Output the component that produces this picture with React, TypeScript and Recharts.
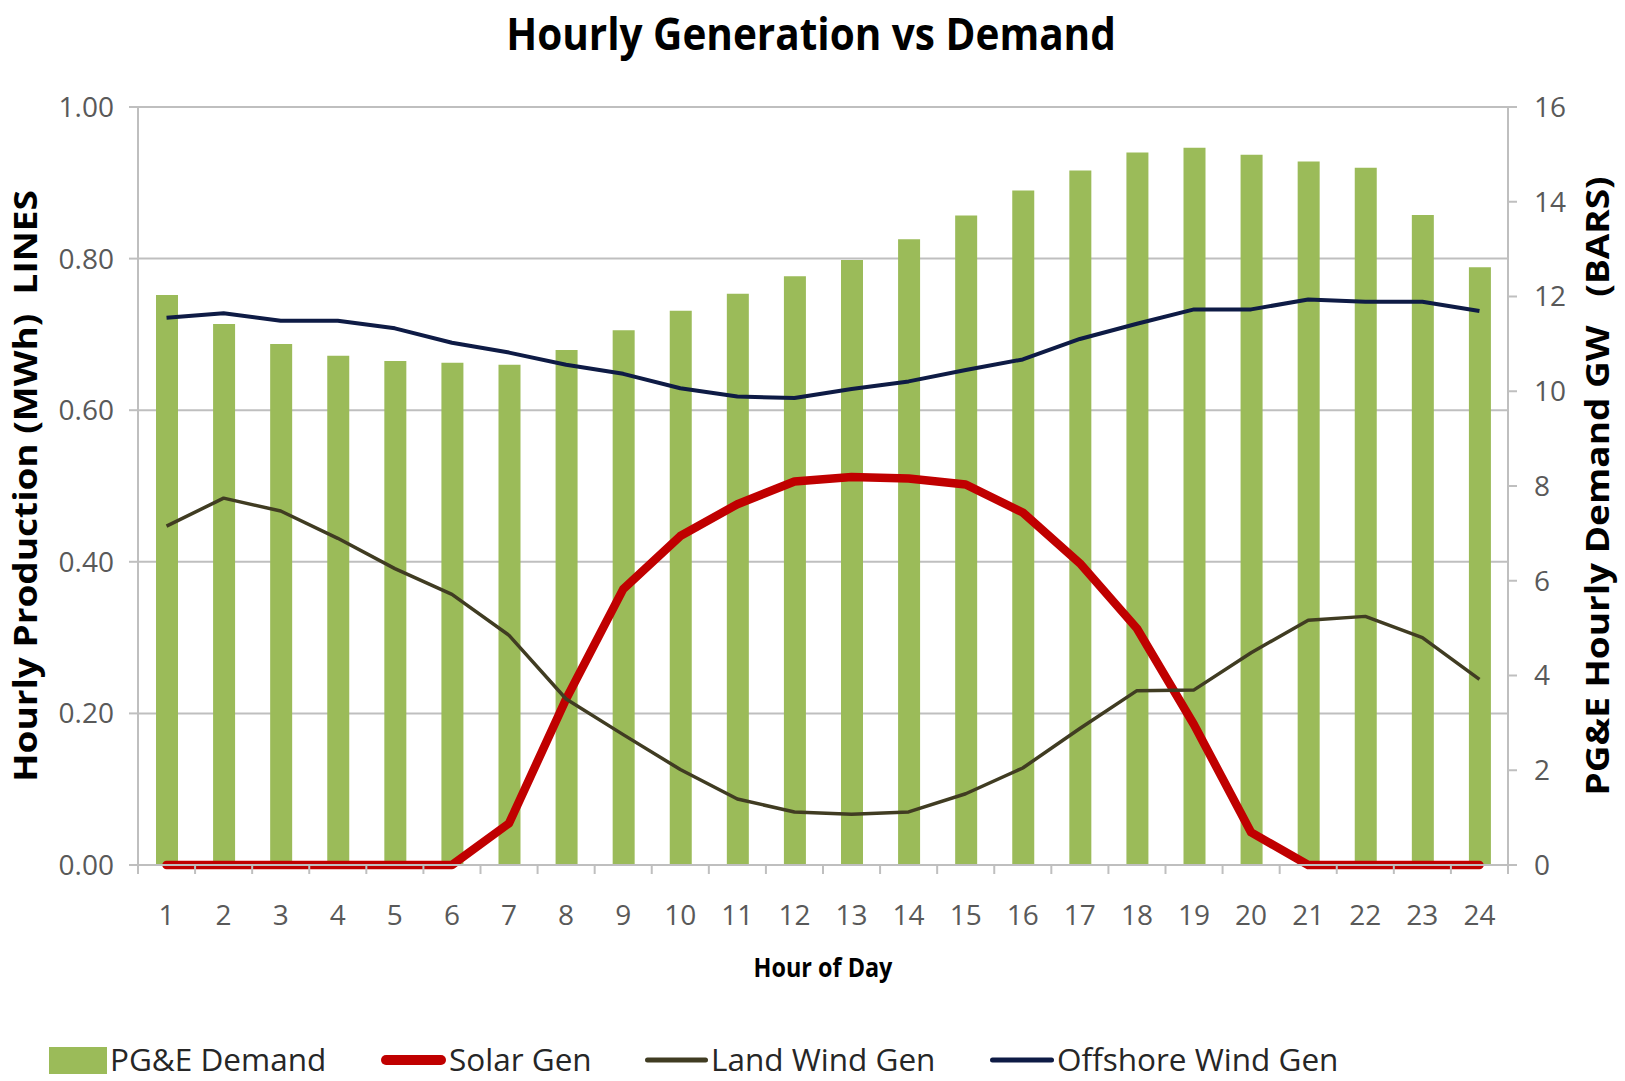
import React from 'react';
import { ComposedChart, Bar, Line, XAxis, YAxis, CartesianGrid } from 'recharts';

const hours = ['1', '2', '3', '4', '5', '6', '7', '8', '9', '10', '11', '12', '13', '14', '15', '16', '17', '18', '19', '20', '21', '22', '23', '24'];
const demandGW = [12.03, 11.42, 11.0, 10.75, 10.64, 10.6, 10.56, 10.87, 11.29, 11.7, 12.06, 12.43, 12.77, 13.21, 13.71, 14.24, 14.66, 15.04, 15.14, 14.99, 14.85, 14.72, 13.72, 12.62];
const solarGen = [0, 0, 0, 0, 0, 0, 0.055, 0.219, 0.364, 0.434, 0.476, 0.506, 0.512, 0.51, 0.502, 0.465, 0.398, 0.312, 0.185, 0.043, 0, 0, 0, 0];
const landWindGen = [0.447, 0.484, 0.467, 0.431, 0.391, 0.357, 0.303, 0.219, 0.172, 0.126, 0.087, 0.07, 0.067, 0.07, 0.094, 0.128, 0.18, 0.23, 0.231, 0.28, 0.323, 0.328, 0.3, 0.245];
const offshoreWindGen = [0.722, 0.728, 0.718, 0.718, 0.708, 0.689, 0.676, 0.66, 0.648, 0.629, 0.618, 0.616, 0.628, 0.638, 0.653, 0.667, 0.694, 0.714, 0.733, 0.733, 0.746, 0.743, 0.743, 0.731];
const leftTicks = [0, 0.2, 0.4, 0.6, 0.8, 1.0];
const rightTicks = [0, 2, 4, 6, 8, 10, 12, 14, 16];

const data = hours.map((h, i) => ({
  hour: h,
  demand: demandGW[i],
  solar: solarGen[i],
  land: landWindGen[i],
  offshore: offshoreWindGen[i],
}));

const FONT = "'Open Sans', 'DejaVu Sans', sans-serif";
const TICK_COLOR = '#595959';
const GRID = '#BFBFBF';
const GREEN = '#9BBB59';
const RED = '#C00000';
const OLIVE = '#403C22';
const NAVY = '#0E1B45';

const legendItems = [
  { name: 'PG&E Demand', color: GREEN, kind: 'rect', x: 49, w: 58, sw: 0 },
  { name: 'Solar Gen', color: RED, kind: 'line', x: 381, w: 65, sw: 10 },
  { name: 'Land Wind Gen', color: OLIVE, kind: 'line', x: 645, w: 63, sw: 5 },
  { name: 'Offshore Wind Gen', color: NAVY, kind: 'line', x: 990, w: 64, sw: 5 },
];

const XTick = (props: any) => {
  const { x, y, payload, index } = props;
  const off = payload && typeof payload.offset === 'number' && payload.offset > 0 ? payload.offset : 28.5;
  const isLast = index === hours.length - 1;
  return (
    <g>
      <line x1={x - off} x2={x - off} y1={y} y2={y + 9} stroke={GRID} strokeWidth={2} />
      {isLast && <line x1={x + off} x2={x + off} y1={y} y2={y + 9} stroke={GRID} strokeWidth={2} />}
      <text x={x} y={y + 60} textAnchor="middle" fontFamily={FONT} fontSize={28} fill={TICK_COLOR}>
        {payload.value}
      </text>
    </g>
  );
};

const LeftTitle = (p: any) => {
  const vb = p.viewBox || { x: 0, y: 107, width: 138, height: 758 };
  const cx = vb.x + 37;
  const cy = vb.y + vb.height / 2;
  return (
    <text
      transform={`translate(${cx},${cy}) scale(0.85,1) rotate(-90)`}
      textAnchor="middle"
      fontFamily={FONT}
      fontWeight={700}
      fontSize={37}
      fill="#000"
      style={{ whiteSpace: 'pre' }}
    >
      {'Hourly Production (MWh)  LINES'}
    </text>
  );
};

const RightTitle = (p: any) => {
  const vb = p.viewBox || { x: 1508, y: 107, width: 117, height: 758 };
  const cx = vb.x + 101;
  const cy = vb.y + vb.height / 2;
  return (
    <text
      transform={`translate(${cx},${cy}) scale(0.85,1) rotate(-90)`}
      textAnchor="middle"
      fontFamily={FONT}
      fontWeight={700}
      fontSize={37}
      fill="#000"
      style={{ whiteSpace: 'pre' }}
    >
      {'PG&E Hourly Demand GW   (BARS)'}
    </text>
  );
};

const BottomTitle = (p: any) => {
  const vb = p.viewBox || { x: 138, y: 865, width: 1370, height: 216 };
  const cx = vb.x + vb.width / 2;
  const cy = vb.y + 112;
  return (
    <text
      transform={`translate(${cx},${cy}) scale(0.9,1)`}
      textAnchor="middle"
      fontFamily={FONT}
      fontWeight={700}
      fontSize={26}
      fill="#000"
    >
      Hour of Day
    </text>
  );
};

export default function App() {
  return (
    <div style={{ position: 'absolute', left: 0, top: 0, width: 1625, height: 1081, background: '#fff' }}>
      <ComposedChart width={1625} height={1081} data={data} margin={{ top: 107, right: 0, bottom: 0, left: 0 }}>
        <CartesianGrid yAxisId="left" vertical={false} horizontal={true} stroke={GRID} strokeWidth={2} />
        <XAxis
          dataKey="hour"
          height={216}
          tickSize={0}
          tickMargin={0}
          tickLine={false}
          axisLine={{ stroke: GRID, strokeWidth: 2 }}
          tick={<XTick />}
          interval={0}
          label={{ content: (p: any) => <BottomTitle {...p} /> }}
        />
        <YAxis
          yAxisId="left"
          orientation="left"
          width={138}
          domain={[0, 1]}
          ticks={leftTicks}
          interval={0}
          tickFormatter={(v: number) => v.toFixed(2)}
          tickSize={9}
          tickMargin={15}
          tickLine={{ stroke: GRID, strokeWidth: 2 }}
          axisLine={{ stroke: GRID, strokeWidth: 2 }}
          tick={{ fontFamily: FONT, fontSize: 28, fill: TICK_COLOR }}
          label={{ content: (p: any) => <LeftTitle {...p} /> }}
        />
        <YAxis
          yAxisId="right"
          orientation="right"
          width={117}
          domain={[0, 16]}
          ticks={rightTicks}
          interval={0}
          tickSize={9}
          tickMargin={17}
          tickLine={{ stroke: GRID, strokeWidth: 2 }}
          axisLine={{ stroke: GRID, strokeWidth: 2 }}
          tick={{ fontFamily: FONT, fontSize: 28, fill: TICK_COLOR }}
          label={{ content: (p: any) => <RightTitle {...p} /> }}
        />
        <Bar yAxisId="right" dataKey="demand" name="PG&E Demand" fill={GREEN} barSize={22} isAnimationActive={false} />
        <Line yAxisId="left" type="linear" dataKey="solar" name="Solar Gen" stroke={RED} strokeWidth={8.5} dot={false} strokeLinecap="round" strokeLinejoin="round" isAnimationActive={false} />
        <Line yAxisId="left" type="linear" dataKey="land" name="Land Wind Gen" stroke={OLIVE} strokeWidth={3.5} dot={false} strokeLinejoin="round" isAnimationActive={false} />
        <Line yAxisId="left" type="linear" dataKey="offshore" name="Offshore Wind Gen" stroke={NAVY} strokeWidth={4} dot={false} strokeLinejoin="round" isAnimationActive={false} />
      </ComposedChart>
      <svg width={1625} height={1081} style={{ position: 'absolute', left: 0, top: 0, pointerEvents: 'none' }}>
        <text
          transform="translate(811,50) scale(0.9,1)"
          textAnchor="middle"
          fontFamily={FONT}
          fontWeight={700}
          fontSize={45}
          fill="#000"
        >
          Hourly Generation vs Demand
        </text>
        {legendItems.map((it) => (
          <g key={it.name}>
            {it.kind === 'rect' ? (
              <rect x={it.x} y={1047} width={it.w} height={27} fill={it.color} />
            ) : (
              <line
                x1={it.x + it.sw / 2}
                x2={it.x + it.w - it.sw / 2}
                y1={1060}
                y2={1060}
                stroke={it.color}
                strokeWidth={it.sw}
                strokeLinecap="round"
              />
            )}
            <text x={it.x + it.w + 3} y={1071} fontFamily={FONT} fontSize={31.5} fill="#262626">
              {it.name}
            </text>
          </g>
        ))}
      </svg>
    </div>
  );
}
